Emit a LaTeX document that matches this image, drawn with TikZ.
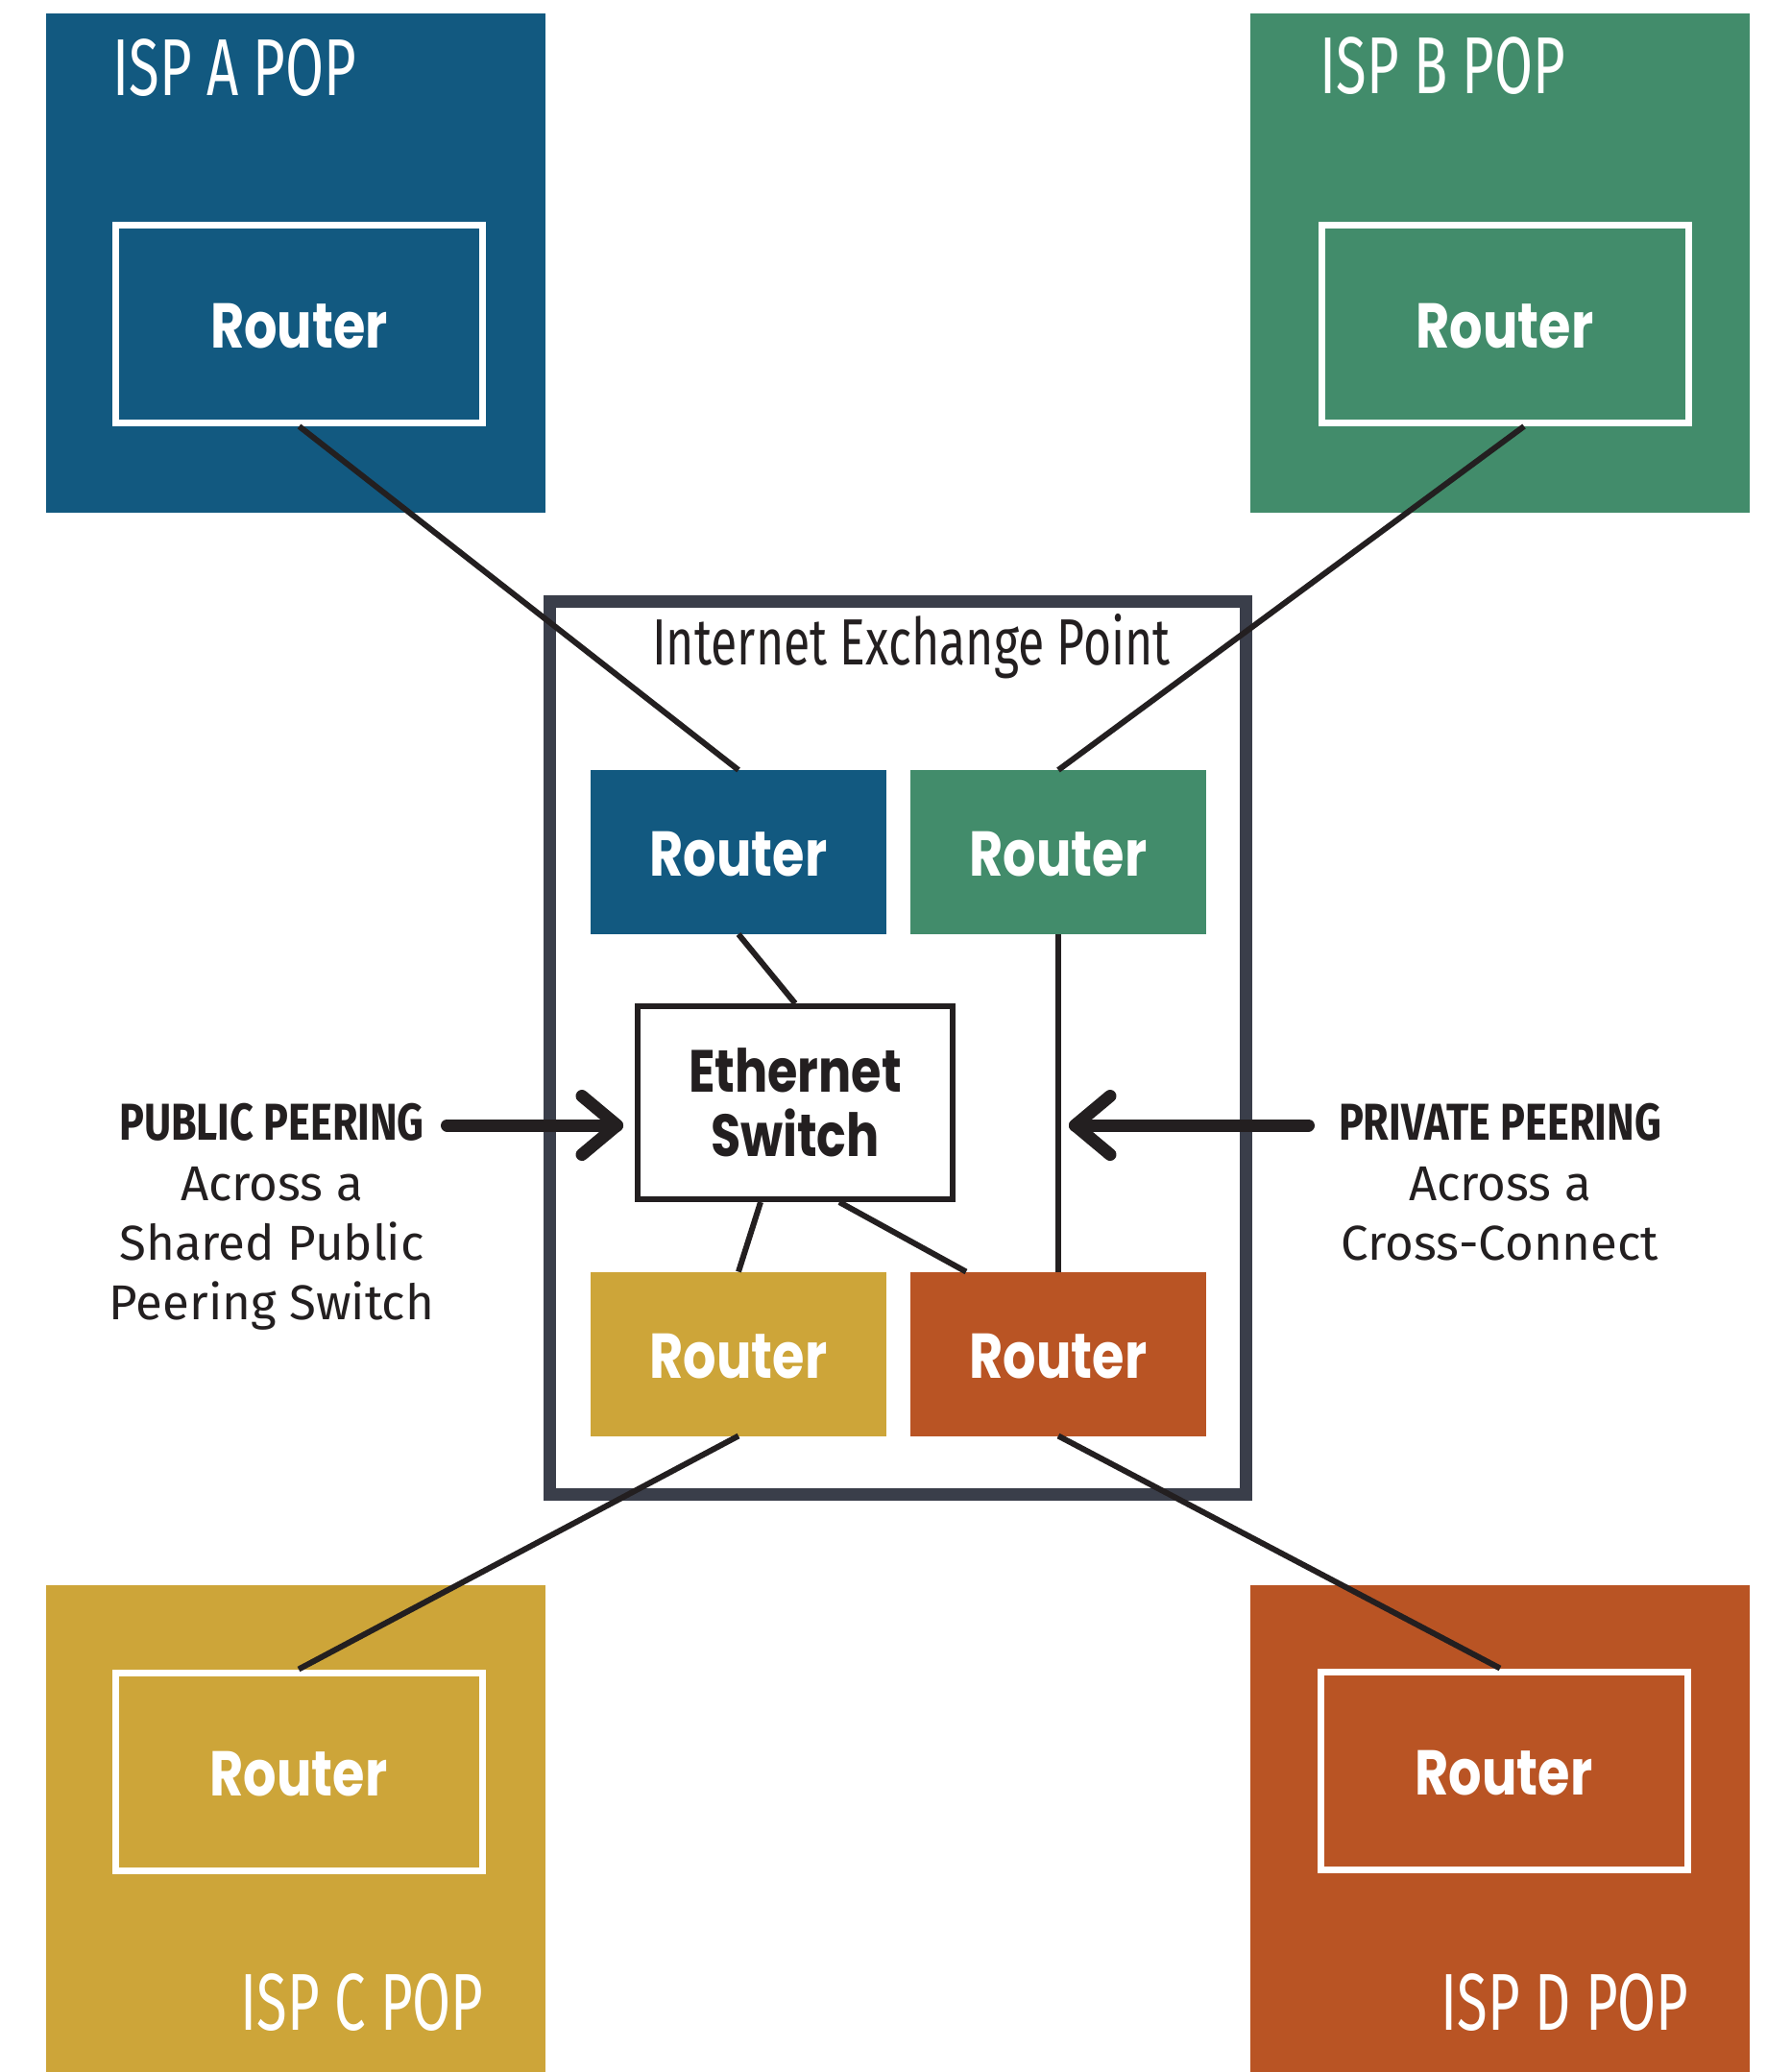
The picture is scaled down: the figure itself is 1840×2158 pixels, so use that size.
\documentclass[tikz,border=0pt]{standalone}
\usepackage{fontspec}
\setmainfont{Fira Sans}
\newfontfamily\ispfont[FakeStretch=0.69]{Fira Sans}
\newfontfamily\ixpfont[FakeStretch=0.735]{Fira Sans}
\newfontfamily\headfont[FakeStretch=0.80]{Fira Sans}
\newfontfamily\rtrfont[FakeStretch=0.82]{Poppins}
\usetikzlibrary{calc}
\definecolor{ispblue}{RGB}{18,89,128}
\definecolor{ispgreen}{RGB}{66,140,107}
\definecolor{ispgold}{RGB}{205,165,57}
\definecolor{isporange}{RGB}{185,84,36}
\definecolor{ixpgray}{RGB}{58,62,74}
\definecolor{linek}{RGB}{35,31,32}
\begin{document}
\begin{tikzpicture}[x=0.5pt,y=-0.5pt,
  popbox/.style={rectangle, draw=none, inner sep=0pt, outer sep=0pt, minimum width=260pt},
  poplabel/.style={inner sep=0pt, text=white, font=\ispfont\fontsize{42}{48}\selectfont},
  outrtr/.style={rectangle, draw=white, line width=3.5pt, inner sep=0pt, minimum width=191pt, minimum height=103pt,
    text=white, font=\rtrfont\bfseries\fontsize{33}{36}\selectfont},
  inrtr/.style={rectangle, inner sep=0pt, outer sep=0pt, minimum width=154pt, minimum height=85.5pt,
    text=white, font=\rtrfont\bfseries\fontsize{33}{36}\selectfont},
  rtrtext/.style={inner sep=0pt, text=white, font=\rtrfont\bfseries\fontsize{33}{36}\selectfont},
  switchbox/.style={rectangle, draw=linek, line width=3pt, fill=white, inner sep=0pt, minimum width=164pt, minimum height=100.5pt,
    align=center, text=linek, font=\rtrfont\bfseries\fontsize{31}{33.5}\selectfont},
  conn/.style={draw=linek, line width=3pt},
  arrowk/.style={draw=linek, line width=6.5pt, line cap=round, line join=round},
  headtxt/.style={inner sep=0pt, text=linek, font=\headfont\bfseries\fontsize{27}{31}\selectfont},
  bodytxt/.style={inner sep=0pt, text=linek, align=center, font=\fontsize{25.5}{31}\selectfont}
]
\useasboundingbox (0,0) rectangle (1840,2158);
\fill[white] (0,0) rectangle (1840,2158);

% ISP POP boxes
\node[popbox, fill=ispblue, minimum height=260pt] (popA) at (308,274) {};
\node[popbox, fill=ispgreen, minimum height=260pt] (popB) at (1562,274) {};
\node[popbox, fill=ispgold, minimum height=253.5pt] (popC) at (308,1904.5) {};
\node[popbox, fill=isporange, minimum height=253.5pt] (popD) at (1562,1904.5) {};

\node[poplabel, anchor=base west] (labA) at (117,99) {ISP A POP};
\node[poplabel, anchor=base west] (labB) at (1374,97) {ISP B POP};
\node[poplabel, anchor=base east] (labC) at (504,2114) {ISP C POP};
\node[poplabel, anchor=base east] (labD) at (1759,2114) {ISP D POP};

\node[outrtr] (rA) at (311.5,337.5) {};
\node[outrtr] (rB) at (1567,337.5) {};
\node[outrtr] (rC) at (311,1845) {};
\node[outrtr] (rD) at (1566,1844) {};
\node[rtrtext, anchor=base] (rAt) at ($(rA.center)+(0,25)$) {Router};
\node[rtrtext, anchor=base] (rBt) at ($(rB.center)+(0,25)$) {Router};
\node[rtrtext, anchor=base] (rCt) at ($(rC.center)+(0,25)$) {Router};
\node[rtrtext, anchor=base] (rDt) at ($(rD.center)+(0,25)$) {Router};

% IXP
\node[rectangle, draw=ixpgray, line width=6.5pt, inner sep=0pt, minimum width=362.25pt, minimum height=465pt] (ixp) at (934.75,1091.5) {};
\node[inner sep=0pt, text=linek, font=\ixpfont\fontsize{34}{38}\selectfont, anchor=base] (ixptitle) at (949,692) {Internet Exchange Point};

\node[inrtr, fill=ispblue] (xa) at (769,887.5) {};
\node[inrtr, fill=ispgreen] (xb) at (1102,887.5) {};
\node[inrtr, fill=ispgold] (xc) at (769,1410) {};
\node[inrtr, fill=isporange] (xd) at (1102,1410) {};
\node[rtrtext, anchor=base] (xat) at ($(xa.center)+(0,25)$) {Router};
\node[rtrtext, anchor=base] (xbt) at ($(xb.center)+(0,25)$) {Router};
\node[rtrtext, anchor=base] (xct) at ($(xc.center)+(0,25)$) {Router};
\node[rtrtext, anchor=base] (xdt) at ($(xd.center)+(0,25)$) {Router};
\node[switchbox] (sw) at (828,1148.5) {Ethernet\\Switch};

% connectors
\draw[conn] (rA.south) -- (xa.north);
\draw[conn] ($(rB.south)+(20,0)$) -- (xb.north);
\draw[conn] (xa.south) -- (sw.north);
\draw[conn] (xb.south) -- (xd.north);
\draw[conn] ($(sw.south)+(-36,0)$) -- (xc.north);
\draw[conn] ($(sw.south)+(46,0)$) -- ($(xd.north)+(-96,0)$);
\draw[conn] (xc.south) -- (rC.north);
\draw[conn] (xd.south) -- ($(rD.north)+(-4,0)$);

% peering labels (base anchor = last line's baseline)
\node[headtxt, anchor=base] (pubhead) at (283,1187) {PUBLIC PEERING};
\node[bodytxt, anchor=base] (pubbody) at (283,1374) {Across a\\Shared Public\\Peering Switch};
\node[headtxt, anchor=base] (privhead) at (1562,1187) {PRIVATE PEERING};
\node[bodytxt, anchor=base] (privbody) at (1562,1312) {Across a\\Cross-Connect};

% arrows
\coordinate (pubstart) at (465.5,1172);
\coordinate (pubtip) at (642.5,1172);
\draw[arrowk] (pubstart) -- (pubtip);
\draw[arrowk] ($(pubtip)+(-36.5,-30.5)$) -- (pubtip) -- ($(pubtip)+(-36.5,30.5)$);
\coordinate (privstart) at (1362.5,1172);
\coordinate (privtip) at (1119.5,1172);
\draw[arrowk] (privstart) -- (privtip);
\draw[arrowk] ($(privtip)+(36.5,-30.5)$) -- (privtip) -- ($(privtip)+(36.5,30.5)$);
\end{tikzpicture}
\end{document}
